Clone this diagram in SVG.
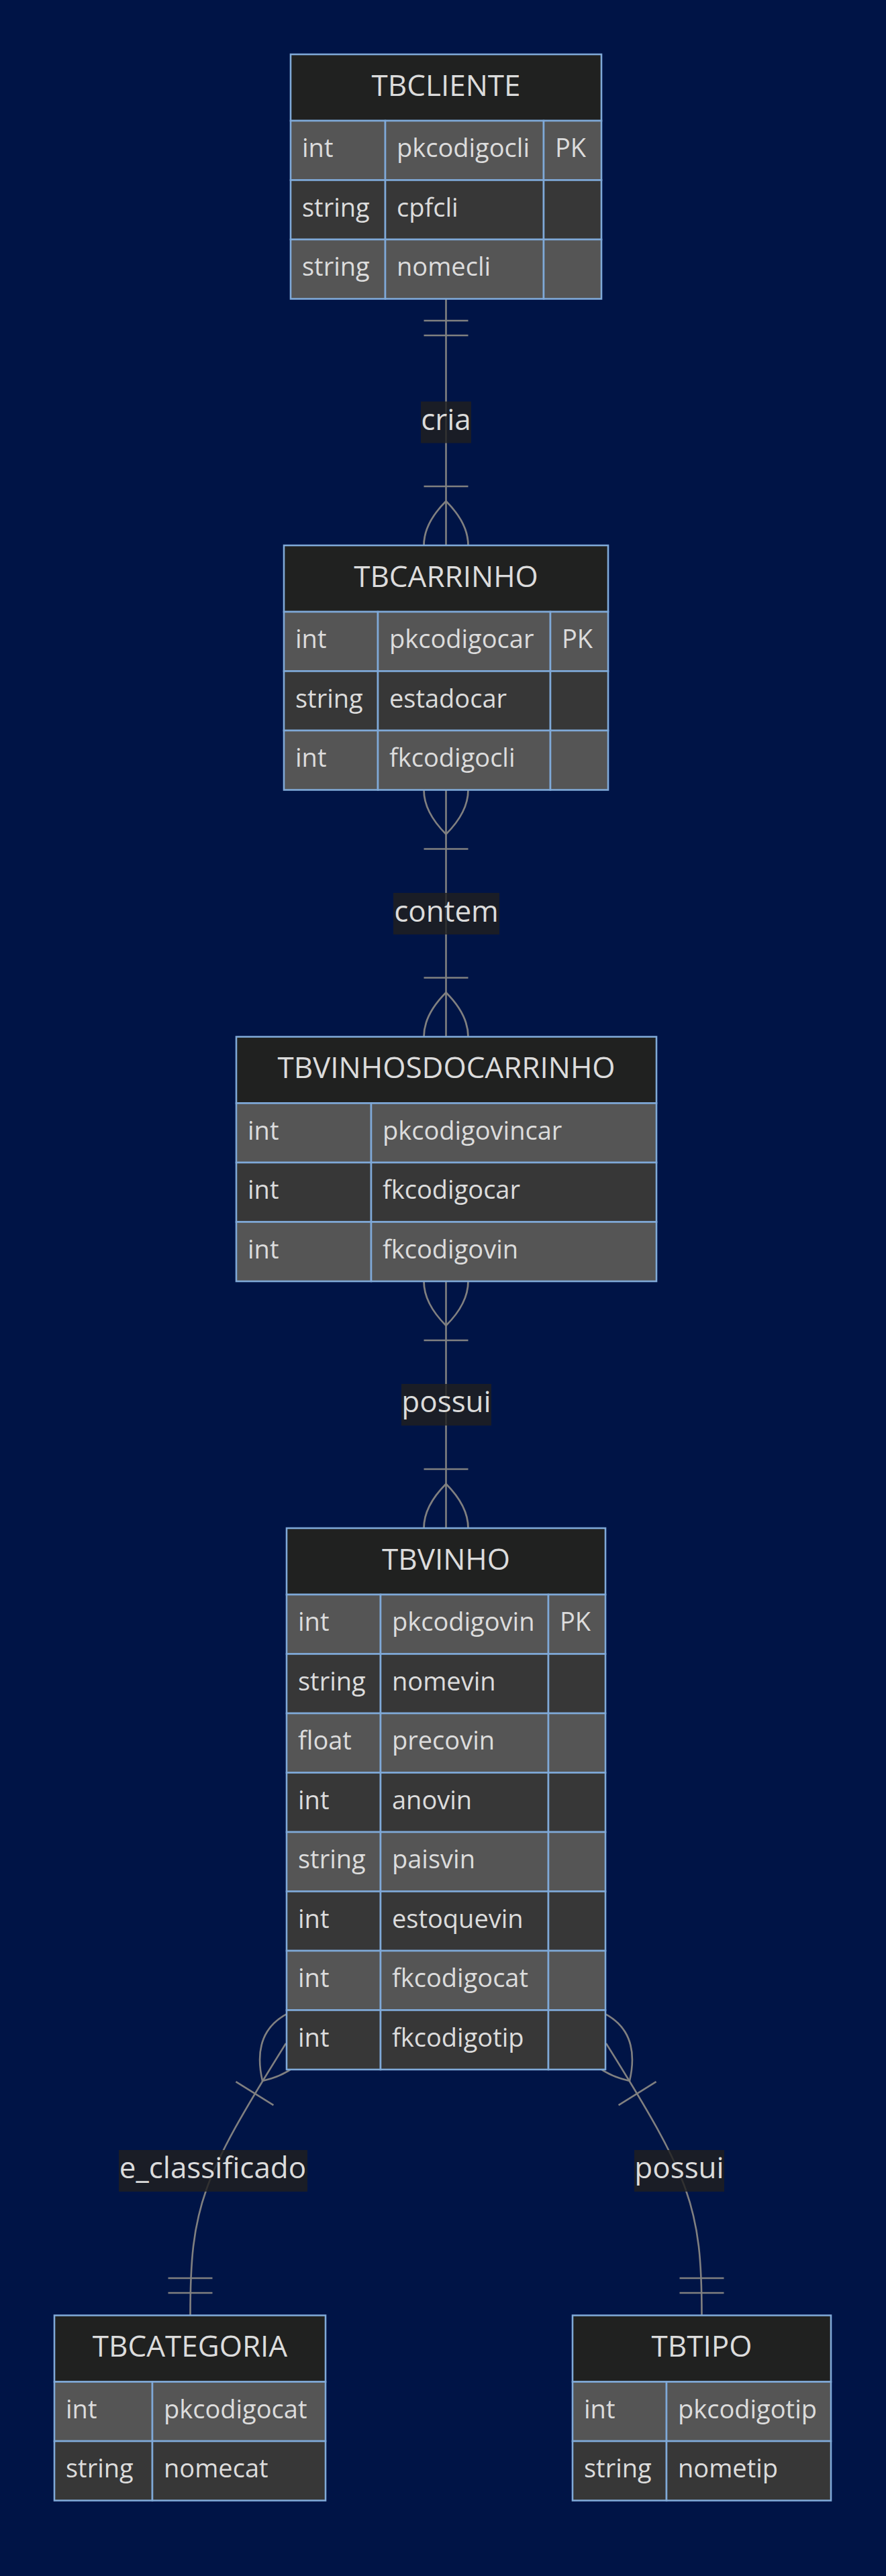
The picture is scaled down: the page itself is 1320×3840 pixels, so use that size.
<svg xmlns="http://www.w3.org/2000/svg" width="1320" height="3840" viewBox="0 0 1320 3840">
<style>
.bg{fill:#001446}
.hd{fill:#202120;stroke:#7fa9d8;stroke-width:2.6}
.ro{fill:#555555;stroke:#7fa9d8;stroke-width:2.6}
.re{fill:#373737;stroke:#7fa9d8;stroke-width:2.6}
.ht{font-family:"Open Sans","Noto Sans","DejaVu Sans",sans-serif;font-size:44px;fill:#dcdcdc;text-anchor:middle}
.ct{font-family:"Open Sans","Noto Sans","DejaVu Sans",sans-serif;font-size:38px;fill:#dcdcdc}
.lt{font-family:"Open Sans","Noto Sans","DejaVu Sans",sans-serif;font-size:44px;fill:#dcdcdc;text-anchor:middle}
.lb{fill:#202020;fill-opacity:0.82}
.ln{fill:none;stroke:#808080;stroke-width:2.6}
</style>
<rect class="bg" x="0" y="0" width="1320" height="3840"/>

<g id="connectors">
  <!-- cria -->
  <path class="ln" d="M664.5,445.5 L664.5,813"/>
  <path class="ln" d="M631.5,478 L697.5,478 M631.5,500 L697.5,500"/>
  <path class="ln" d="M631.5,725 L697.5,725"/>
  <path class="ln" d="M664.5,747 Q598.5,813 664.5,879 Q730.5,813 664.5,747 Z"/>
  <!-- contem -->
  <path class="ln" d="M664.5,1177.5 L664.5,1545.5"/>
  <path class="ln" d="M664.5,1243.5 Q598.5,1177.5 664.5,1111.5 Q730.5,1177.5 664.5,1243.5 Z"/>
  <path class="ln" d="M631.5,1265.5 L697.5,1265.5"/>
  <path class="ln" d="M631.5,1457.5 L697.5,1457.5"/>
  <path class="ln" d="M664.5,1479.5 Q598.5,1545.5 664.5,1611.5 Q730.5,1545.5 664.5,1479.5 Z"/>
  <!-- possui (middle) -->
  <path class="ln" d="M664.5,1910 L664.5,2278"/>
  <path class="ln" d="M664.5,1976 Q598.5,1910 664.5,1844 Q730.5,1910 664.5,1976 Z"/>
  <path class="ln" d="M631.5,1998 L697.5,1998"/>
  <path class="ln" d="M631.5,2190 L697.5,2190"/>
  <path class="ln" d="M664.5,2212 Q598.5,2278 664.5,2344 Q730.5,2278 664.5,2212 Z"/>
  <!-- e_classificado -->
  <path class="ln" d="M426,3046 C300,3247.6 283.5,3290 283.5,3451.5"/>
  <path class="ln" d="M391,3102 Q370,3011 461,2990 Q482,3081 391,3102 Z"/>
  <path class="ln" d="M351.4,3103.1 L407.4,3138.1"/>
  <path class="ln" d="M250.5,3396 L316.5,3396 M250.5,3418 L316.5,3418"/>
  <!-- possui (right) -->
  <path class="ln" d="M903,3046 C1029,3247.6 1045.5,3290 1045.5,3451.5"/>
  <path class="ln" d="M938,3102 Q959,3011 868,2990 Q847,3081 938,3102 Z"/>
  <path class="ln" d="M977.6,3103.1 L921.6,3138.1"/>
  <path class="ln" d="M1012.5,3396 L1078.5,3396 M1012.5,3418 L1078.5,3418"/>
</g>

<g id="edge-labels">
  <rect class="lb" x="627" y="598.5" width="75" height="62"/>
  <text class="lt" x="664.5" y="641">cria</text>
  <rect class="lb" x="586" y="1331" width="158" height="62"/>
  <text class="lt" x="665" y="1373.5">contem</text>
  <rect class="lb" x="598" y="2063" width="134" height="62"/>
  <text class="lt" x="665" y="2105">possui</text>
  <rect class="lb" x="177" y="3205" width="281" height="62"/>
  <text class="lt" x="317" y="3247">e_classificado</text>
  <rect class="lb" x="945" y="3205" width="134" height="62"/>
  <text class="lt" x="1012" y="3247">possui</text>
</g>

<g id="TBCLIENTE">
  <rect class="hd" x="433" y="81" width="463" height="99"/>
  <text class="ht" x="664.5" y="143">TBCLIENTE</text>
  <rect class="ro" x="433" y="180" width="141" height="88.5"/>
  <rect class="ro" x="574" y="180" width="236" height="88.5"/>
  <rect class="ro" x="810" y="180" width="86" height="88.5"/>
  <rect class="re" x="433" y="268.5" width="141" height="88.5"/>
  <rect class="re" x="574" y="268.5" width="236" height="88.5"/>
  <rect class="re" x="810" y="268.5" width="86" height="88.5"/>
  <rect class="ro" x="433" y="357" width="141" height="88.5"/>
  <rect class="ro" x="574" y="357" width="236" height="88.5"/>
  <rect class="ro" x="810" y="357" width="86" height="88.5"/>
  <text class="ct" x="450" y="234">int</text>
  <text class="ct" x="591" y="234">pkcodigocli</text>
  <text class="ct" x="827" y="234">PK</text>
  <text class="ct" x="450" y="322.5">string</text>
  <text class="ct" x="591" y="322.5">cpfcli</text>
  <text class="ct" x="450" y="411">string</text>
  <text class="ct" x="591" y="411">nomecli</text>
</g>

<g id="TBCARRINHO">
  <rect class="hd" x="423" y="813" width="483" height="99"/>
  <text class="ht" x="664.5" y="874.5">TBCARRINHO</text>
  <rect class="ro" x="423" y="912" width="140" height="88.5"/>
  <rect class="ro" x="563" y="912" width="257" height="88.5"/>
  <rect class="ro" x="820" y="912" width="86" height="88.5"/>
  <rect class="re" x="423" y="1000.5" width="140" height="88.5"/>
  <rect class="re" x="563" y="1000.5" width="257" height="88.5"/>
  <rect class="re" x="820" y="1000.5" width="86" height="88.5"/>
  <rect class="ro" x="423" y="1089" width="140" height="88.5"/>
  <rect class="ro" x="563" y="1089" width="257" height="88.5"/>
  <rect class="ro" x="820" y="1089" width="86" height="88.5"/>
  <text class="ct" x="440" y="966">int</text>
  <text class="ct" x="580" y="966">pkcodigocar</text>
  <text class="ct" x="837" y="966">PK</text>
  <text class="ct" x="440" y="1054.5">string</text>
  <text class="ct" x="580" y="1054.5">estadocar</text>
  <text class="ct" x="440" y="1143">int</text>
  <text class="ct" x="580" y="1143">fkcodigocli</text>
</g>

<g id="TBVINHOSDOCARRINHO">
  <rect class="hd" x="352" y="1545.5" width="626" height="99"/>
  <text class="ht" x="665" y="1607">TBVINHOSDOCARRINHO</text>
  <rect class="ro" x="352" y="1644.5" width="201" height="88.5"/>
  <rect class="ro" x="553" y="1644.5" width="425" height="88.5"/>
  <rect class="re" x="352" y="1733" width="201" height="88.5"/>
  <rect class="re" x="553" y="1733" width="425" height="88.5"/>
  <rect class="ro" x="352" y="1821.5" width="201" height="88.5"/>
  <rect class="ro" x="553" y="1821.5" width="425" height="88.5"/>
  <text class="ct" x="369" y="1698.5">int</text>
  <text class="ct" x="570" y="1698.5">pkcodigovincar</text>
  <text class="ct" x="369" y="1787">int</text>
  <text class="ct" x="570" y="1787">fkcodigocar</text>
  <text class="ct" x="369" y="1875.5">int</text>
  <text class="ct" x="570" y="1875.5">fkcodigovin</text>
</g>

<g id="TBVINHO">
  <rect class="hd" x="427" y="2278" width="475" height="99"/>
  <text class="ht" x="664.5" y="2339.5">TBVINHO</text>
  <rect class="ro" x="427" y="2377" width="140" height="88.5"/>
  <rect class="ro" x="567" y="2377" width="250" height="88.5"/>
  <rect class="ro" x="817" y="2377" width="85" height="88.5"/>
  <rect class="re" x="427" y="2465.5" width="140" height="88.5"/>
  <rect class="re" x="567" y="2465.5" width="250" height="88.5"/>
  <rect class="re" x="817" y="2465.5" width="85" height="88.5"/>
  <rect class="ro" x="427" y="2554" width="140" height="88.5"/>
  <rect class="ro" x="567" y="2554" width="250" height="88.5"/>
  <rect class="ro" x="817" y="2554" width="85" height="88.5"/>
  <rect class="re" x="427" y="2642.5" width="140" height="88.5"/>
  <rect class="re" x="567" y="2642.5" width="250" height="88.5"/>
  <rect class="re" x="817" y="2642.5" width="85" height="88.5"/>
  <rect class="ro" x="427" y="2731" width="140" height="88.5"/>
  <rect class="ro" x="567" y="2731" width="250" height="88.5"/>
  <rect class="ro" x="817" y="2731" width="85" height="88.5"/>
  <rect class="re" x="427" y="2819.5" width="140" height="88.5"/>
  <rect class="re" x="567" y="2819.5" width="250" height="88.5"/>
  <rect class="re" x="817" y="2819.5" width="85" height="88.5"/>
  <rect class="ro" x="427" y="2908" width="140" height="88.5"/>
  <rect class="ro" x="567" y="2908" width="250" height="88.5"/>
  <rect class="ro" x="817" y="2908" width="85" height="88.5"/>
  <rect class="re" x="427" y="2996.5" width="140" height="88.5"/>
  <rect class="re" x="567" y="2996.5" width="250" height="88.5"/>
  <rect class="re" x="817" y="2996.5" width="85" height="88.5"/>
  <text class="ct" x="444" y="2431">int</text>
  <text class="ct" x="584" y="2431">pkcodigovin</text>
  <text class="ct" x="834" y="2431">PK</text>
  <text class="ct" x="444" y="2519.5">string</text>
  <text class="ct" x="584" y="2519.5">nomevin</text>
  <text class="ct" x="444" y="2608">float</text>
  <text class="ct" x="584" y="2608">precovin</text>
  <text class="ct" x="444" y="2696.5">int</text>
  <text class="ct" x="584" y="2696.5">anovin</text>
  <text class="ct" x="444" y="2785">string</text>
  <text class="ct" x="584" y="2785">paisvin</text>
  <text class="ct" x="444" y="2873.5">int</text>
  <text class="ct" x="584" y="2873.5">estoquevin</text>
  <text class="ct" x="444" y="2962">int</text>
  <text class="ct" x="584" y="2962">fkcodigocat</text>
  <text class="ct" x="444" y="3050.5">int</text>
  <text class="ct" x="584" y="3050.5">fkcodigotip</text>
</g>

<g id="TBCATEGORIA">
  <rect class="hd" x="81" y="3451.5" width="404" height="99"/>
  <text class="ht" x="283" y="3513">TBCATEGORIA</text>
  <rect class="ro" x="81" y="3550.5" width="146" height="88.5"/>
  <rect class="ro" x="227" y="3550.5" width="258" height="88.5"/>
  <rect class="re" x="81" y="3639" width="146" height="88.5"/>
  <rect class="re" x="227" y="3639" width="258" height="88.5"/>
  <text class="ct" x="98" y="3604.5">int</text>
  <text class="ct" x="244" y="3604.5">pkcodigocat</text>
  <text class="ct" x="98" y="3693">string</text>
  <text class="ct" x="244" y="3693">nomecat</text>
</g>

<g id="TBTIPO">
  <rect class="hd" x="853" y="3451.5" width="385" height="99"/>
  <text class="ht" x="1045.5" y="3513">TBTIPO</text>
  <rect class="ro" x="853" y="3550.5" width="140" height="88.5"/>
  <rect class="ro" x="993" y="3550.5" width="245" height="88.5"/>
  <rect class="re" x="853" y="3639" width="140" height="88.5"/>
  <rect class="re" x="993" y="3639" width="245" height="88.5"/>
  <text class="ct" x="870" y="3604.5">int</text>
  <text class="ct" x="1010" y="3604.5">pkcodigotip</text>
  <text class="ct" x="870" y="3693">string</text>
  <text class="ct" x="1010" y="3693">nometip</text>
</g>
</svg>
